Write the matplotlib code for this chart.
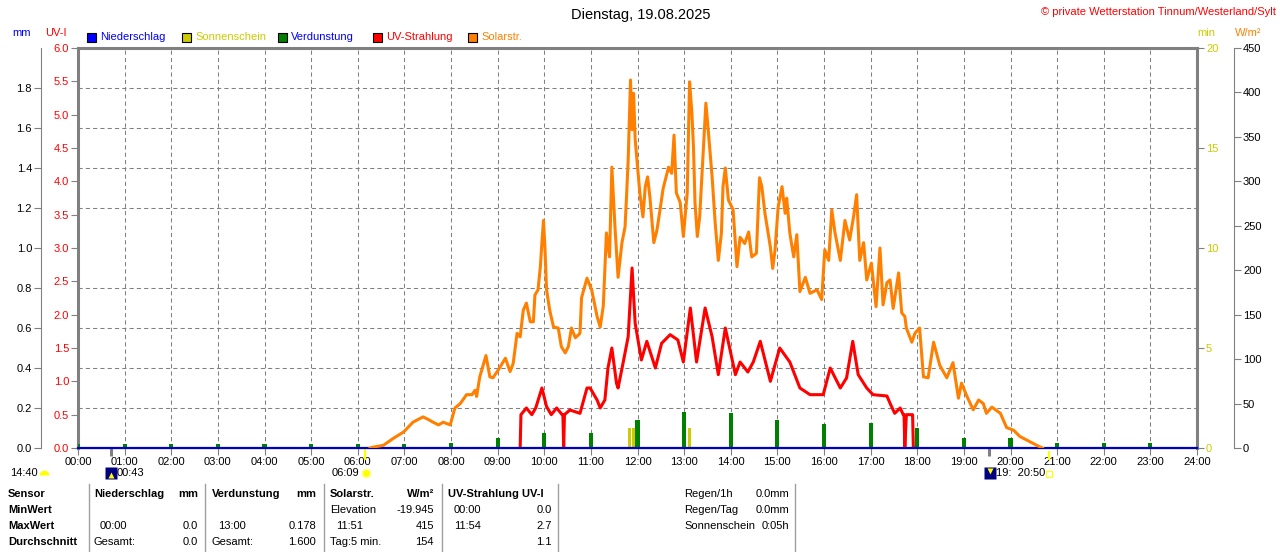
import matplotlib
matplotlib.use('Agg')
import matplotlib.pyplot as plt
from matplotlib.patches import Rectangle
from matplotlib.lines import Line2D
from matplotlib.markers import MarkerStyle
from matplotlib.ticker import MultipleLocator

plt.rcParams['font.family'] = ['Liberation Sans', 'DejaVu Sans']
plt.rcParams['font.size'] = 8

# ---- data ------------------------------------------------------------
# Solarstrahlung W/m2 : minute of day / value
solar_min = [376, 380, 393, 406, 419, 431, 444, 451, 457, 464, 470, 479, 485, 492,
             500, 507, 511, 513, 517, 525, 530, 534, 541, 550, 556, 560, 565, 569,
             573, 577, 582, 586, 588, 592, 595, 597, 599, 601, 603, 607, 612, 618,
             622, 627, 631, 635, 640, 646, 648, 655, 661, 668, 672, 676, 680, 684,
             687, 691, 695, 700, 704, 706, 708, 711, 713, 715, 717, 719, 723, 727,
             730, 733, 736, 741, 745, 749, 753, 760, 764, 767, 770, 775, 779, 784,
             787, 790, 792, 794, 797, 800, 805, 808, 811, 816, 820, 824, 828, 830,
             833, 837, 843, 848, 852, 858, 863, 867, 873, 877, 880, 884, 891, 894,
             897, 901, 906, 910, 912, 916, 921, 925, 929, 936, 942, 951, 957, 961,
             966, 970, 974, 981, 987, 993, 998, 1002, 1006, 1011, 1015, 1021, 1027,
             1032, 1036, 1041, 1045, 1049, 1056, 1060, 1064, 1066, 1073, 1077, 1083,
             1088, 1094, 1101, 1109, 1118, 1126, 1133, 1137, 1144, 1152, 1159, 1165,
             1169, 1176, 1187, 1195, 1204, 1212, 1225, 1236, 1241]
solar_val = [0, 1, 3, 11, 18, 29, 35, 32, 29, 26, 29, 26, 45, 50,
             60, 60, 65, 58, 80, 104, 80, 79, 88, 101, 86, 95, 129, 125,
             155, 163, 142, 142, 172, 178, 204, 231, 256, 223, 178, 155, 136, 135,
             114, 107, 114, 135, 124, 129, 169, 191, 178, 148, 136, 160, 242, 215,
             316, 249, 192, 231, 249, 285, 324, 414, 358, 399, 347, 327, 287, 260,
             294, 305, 282, 231, 245, 268, 292, 316, 309, 352, 287, 276, 238, 287,
             412, 377, 339, 276, 238, 260, 339, 388, 358, 305, 253, 211, 242, 294,
             315, 279, 268, 204, 237, 230, 243, 215, 219, 304, 294, 264, 226, 202,
             223, 271, 294, 264, 281, 242, 215, 240, 176, 192, 174, 178, 167, 223,
             211, 268, 243, 211, 256, 234, 260, 285, 211, 231, 189, 208, 159,
             225, 161, 186, 189, 157, 197, 152, 148, 135, 119, 129, 135,
             80, 79, 119, 93, 79, 96, 56, 73, 58, 43, 54, 50,
             39, 46, 39, 23, 20, 13, 7, 2, 0]

# UV-Strahlung UV-I : minute of day / value
uv_min = [569, 570, 577, 584, 589, 597, 603, 609, 616, 623, 624, 625, 626, 633,
          646, 655, 659, 668, 672, 678, 682, 687, 693, 695, 701, 708, 713, 717,
          725, 732, 743, 751, 762, 772, 779, 788, 796, 807, 816, 824, 833, 846,
          852, 862, 869, 878, 891, 903, 916, 929, 942, 959, 968, 981, 989, 997,
          1004, 1015, 1023, 1041, 1045, 1051, 1058, 1062, 1063, 1064, 1066, 1073,
          1074, 1075]
uv_val = [0.0, 0.5, 0.6, 0.5, 0.6, 0.9, 0.62, 0.5, 0.6, 0.5, 0.5, 0.0, 0.5, 0.57,
          0.52, 0.9, 0.9, 0.72, 0.6, 0.72, 1.2, 1.5, 0.97, 0.9, 1.25, 1.67, 2.7, 1.87,
          1.32, 1.6, 1.2, 1.57, 1.7, 1.62, 1.29, 2.1, 1.29, 2.1, 1.67, 1.1, 1.8, 1.1,
          1.29, 1.14, 1.29, 1.6, 1.0, 1.5, 1.29, 0.9, 0.8, 0.8, 1.2, 0.9, 1.05, 1.6,
          1.1, 0.9, 0.8, 0.78, 0.67, 0.52, 0.6, 0.5, 0.5, 0.0, 0.5, 0.5,
          0.5, 0.0]

# Verdunstung mm per hour
verd_hour = list(range(24))
verd_mm = [0.02, 0.02, 0.02, 0.02, 0.02, 0.02, 0.022, 0.022, 0.025, 0.05, 0.075, 0.075,
           0.14, 0.178, 0.175, 0.14, 0.12, 0.125, 0.1, 0.05, 0.05, 0.023, 0.023, 0.023]

# Sonnenschein min
sun_min = [710, 715, 787]
sun_val = [1.0, 1.0, 1.0]

hour_labels = ['%02d:00' % h for h in range(25)]
uv_ticks = [0.0, 0.5, 1.0, 1.5, 2.0, 2.5, 3.0, 3.5, 4.0, 4.5, 5.0, 5.5, 6.0]
mm_ticks = [0.0, 0.2, 0.4, 0.6, 0.8, 1.0, 1.2, 1.4, 1.6, 1.8]
min_ticks = [0, 5, 10, 15, 20]
w_ticks = [0, 50, 100, 150, 200, 250, 300, 350, 400, 450]

GRAY = '#808080'
BLUE = '#0000ff'
YEL = '#cccc00'
GREEN = '#008000'
RED = '#ff0000'
ORANGE = '#ff8000'

W, H = 1280, 552
def fx(x):
    return x / W
def fy(y):
    return 1 - y / H

fig = plt.figure(figsize=(12.8, 5.52), dpi=100)
fig.patch.set_facecolor('white')
L, R, T, B = 78, 1197, 48, 448
ax = fig.add_axes([fx(L), fy(B), (R - L) / W, (B - T) / H])
ax_min = ax.twinx()
ax_mm = ax.twinx()
ax_w = ax.twinx()

# main axis (UV)
ax.set_xlim(0, 24)
ax.set_ylim(0, 6)
ax.set_xticks(range(25))
ax.set_xticklabels(hour_labels)
ax.set_yticks(uv_ticks)
ax.set_yticklabels(['%.1f' % v for v in uv_ticks], color=RED)
ax.yaxis.set_minor_locator(MultipleLocator(0.6))
ax.tick_params(axis='y', which='minor', length=0)
ax.tick_params(axis='both', which='major', length=5, color=GRAY, pad=1.5)
ax.grid(axis='x', which='major', color=GRAY, lw=0.75, ls=(0, (4, 3)))
ax.grid(axis='y', which='minor', color=GRAY, lw=0.75, ls=(0, (4, 3)))
for s in ['left', 'top', 'right']:
    ax.spines[s].set_color(GRAY)
    ax.spines[s].set_linewidth(2.2)
ax.spines['bottom'].set_color(GRAY)

ax.plot([m / 60 for m in uv_min], uv_val, color=RED, lw=2.2, zorder=3)

# sunshine minutes
ax_min.set_ylim(0, 20)
ax_min.set_yticks(min_ticks)
ax_min.set_yticklabels([str(v) for v in min_ticks], color=YEL)
ax_min.tick_params(axis='y', length=5, color=GRAY, pad=1.5)
for s in ['left', 'top', 'bottom', 'right']:
    ax_min.spines[s].set_visible(False)
ax_min.bar([m / 60 for m in sun_min], sun_val, width=4.5 / 60, color=YEL)

# evaporation mm
ax_mm.set_ylim(0, 2)
ax_mm.yaxis.tick_left()
ax_mm.set_yticks(mm_ticks)
ax_mm.set_yticklabels(['%.1f' % v for v in mm_ticks], color=BLUE)
ax_mm.tick_params(axis='y', length=5, color=GRAY, pad=1.5)
for s in ['top', 'bottom', 'right']:
    ax_mm.spines[s].set_visible(False)
ax_mm.spines['left'].set_visible(True)
ax_mm.spines['left'].set_position(('axes', -37 / (R - L)))
ax_mm.spines['left'].set_color(GRAY)
ax_mm.bar(verd_hour, verd_mm, width=0.09, color=GREEN)
ax_mm.axhline(0, color='#0000c0', lw=1.6, clip_on=False)

# solar radiation
ax_w.set_ylim(0, 450)
ax_w.set_yticks(w_ticks)
ax_w.set_yticklabels([str(v) for v in w_ticks], color=ORANGE)
ax_w.tick_params(axis='y', length=5, color=GRAY, pad=1.5)
for s in ['left', 'top', 'bottom']:
    ax_w.spines[s].set_visible(False)
ax_w.spines['right'].set_position(('axes', 1 + 37 / (R - L)))
ax_w.spines['right'].set_color(GRAY)
ax_w.plot([m / 60 for m in solar_min], solar_val, color=ORANGE, lw=2.2)

# sun / moon markers below the axis
ax.vlines([43 / 60, 1172 / 60], -0.12, 0, color=GRAY, lw=2.2, clip_on=False)
ax.vlines([369 / 60], -0.18, 0, color='#ffff00', lw=1.6, clip_on=False)
ax.vlines([1250 / 60], -0.18, -0.04, color='#ffff00', lw=1.6, clip_on=False)

# header texts
fig.text(fx(641), fy(15), 'Dienstag, 19.08.2025', ha='center', va='center', fontsize=10.5)
fig.text(fx(1276), fy(12), '\u00a9 private Wetterstation Tinnum/Westerland/Sylt',
         ha='right', va='center', color=RED, fontsize=8)
fig.text(fx(22), fy(33), 'mm', ha='center', va='center', color=BLUE)
fig.text(fx(56), fy(33), 'UV-I', ha='center', va='center', color=RED)
fig.text(fx(1206), fy(33), 'min', ha='center', va='center', color=YEL)
fig.text(fx(1248), fy(33), 'W/m\u00b2', ha='center', va='center', color=ORANGE)

legend_x = [87, 182, 278, 373, 468]
legend_txt = ['Niederschlag', 'Sonnenschein', 'Verdunstung', 'UV-Strahlung', 'Solarstr.']
legend_box = [BLUE, YEL, GREEN, RED, ORANGE]
legend_col = [BLUE, YEL, BLUE, RED, ORANGE]
for x, t, bc, tc in zip(legend_x, legend_txt, legend_box, legend_col):
    fig.add_artist(Rectangle((fx(x), fy(42)), 9 / W, 9 / H, facecolor=bc,
                             edgecolor='black', lw=0.8, transform=fig.transFigure))
    fig.text(fx(x + 13), fy(37.5), t, ha='left', va='center', color=tc)


def icon(x, y, **kw):
    fig.add_artist(Line2D([fx(x)], [fy(y)], transform=fig.transFigure, **kw))


# astro texts
fig.text(fx(10), fy(473), '14:40', ha='left', va='center')
icon(44, 475, marker=MarkerStyle('o', fillstyle='top'), markersize=7,
     markerfacecolor='#ffff00', markerfacecoloralt='none', markeredgecolor='none')
icon(111, 473, marker='s', markersize=8, markerfacecolor='#000080', markeredgecolor='none')
icon(111, 475, marker='^', markersize=4, markerfacecolor='#ffff00', markeredgecolor='none')
fig.text(fx(117), fy(473), '00:43', ha='left', va='center')
fig.text(fx(359), fy(473), '06:09', ha='right', va='center')
icon(366, 473, marker='o', markersize=6, markerfacecolor='#ffff00', markeredgecolor='#ffff99')
icon(990, 473, marker='s', markersize=8, markerfacecolor='#000080', markeredgecolor='none')
icon(990, 471, marker='v', markersize=4, markerfacecolor='#ffff00', markeredgecolor='none')
fig.text(fx(996), fy(473), '19:  20:50', ha='left', va='center')
icon(1049, 474, marker='s', markersize=4, markerfacecolor='none', markeredgecolor='#ffff00',
     markeredgewidth=0.8)

# summary table
rows = [494, 510, 526, 542]
for y, t in zip(rows, ['Sensor', 'MinWert', 'MaxWert', 'Durchschnitt']):
    fig.text(fx(8), fy(y), t, ha='left', va='center', fontweight='bold')

left_cells = [
    (94, 494, 'Niederschlag', True), (212, 494, 'Verdunstung', True),
    (330, 494, 'Solarstr.', True), (448, 494, 'UV-Strahlung UV-I', True),
    (330, 510, 'Elevation', False), (454, 510, '00:00', False),
    (100, 526, '00:00', False), (218, 526, '13:00', False),
    (336, 526, '11:51', False), (454, 526, '11:54', False),
    (94, 542, 'Gesamt:', False), (212, 542, 'Gesamt:', False),
    (330, 542, 'Tag:5 min.', False),
    (684, 494, 'Regen/1h', False), (684, 510, 'Regen/Tag', False),
    (684, 526, 'Sonnenschein', False),
]
right_cells = [
    (198, 494, 'mm', True), (316, 494, 'mm', True), (434, 494, 'W/m\u00b2', True),
    (434, 510, '-19.945', False), (552, 510, '0.0', False),
    (198, 526, '0.0', False), (316, 526, '0.178', False),
    (434, 526, '415', False), (552, 526, '2.7', False),
    (198, 542, '0.0', False), (316, 542, '1.600', False),
    (434, 542, '154', False), (552, 542, '1.1', False),
    (789, 494, '0.0mm', False), (789, 510, '0.0mm', False), (789, 526, '0:05h', False),
]
for x, y, t, b in left_cells:
    fig.text(fx(x), fy(y), t, ha='left', va='center', fontweight='bold' if b else 'normal')
for x, y, t, b in right_cells:
    fig.text(fx(x), fy(y), t, ha='right', va='center', fontweight='bold' if b else 'normal')

for x in [89, 205, 324, 442, 558, 795]:
    fig.add_artist(Line2D([fx(x), fx(x)], [fy(484), fy(552)], color='#a0a0a0', lw=1,
                          transform=fig.transFigure))

fig.savefig('out.png', dpi=100)
